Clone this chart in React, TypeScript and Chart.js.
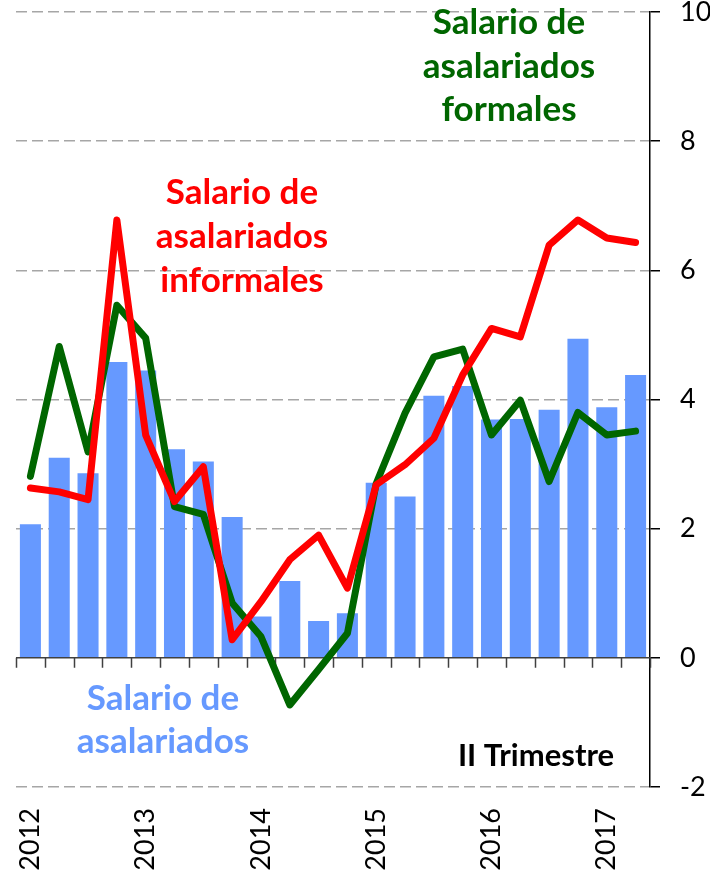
import React, { useEffect, useRef } from "react";
import { Chart, registerables } from "chart.js";

Chart.register(...registerables);

// ---- Data ----
const quarters = [
  "2012-I", "2012-II", "2012-III", "2012-IV",
  "2013-I", "2013-II", "2013-III", "2013-IV",
  "2014-I", "2014-II", "2014-III", "2014-IV",
  "2015-I", "2015-II", "2015-III", "2015-IV",
  "2016-I", "2016-II", "2016-III", "2016-IV",
  "2017-I", "2017-II",
];
const yearTickLabels = [
  "2012", "", "", "",
  "2013", "", "", "",
  "2014", "", "", "",
  "2015", "", "", "",
  "2016", "", "", "",
  "2017", "",
];
const salarioAsalariados = [
  2.07, 3.10, 2.86, 4.58, 4.45, 3.23, 3.04, 2.18, 0.64, 1.19, 0.57,
  0.69, 2.71, 2.50, 4.06, 4.21, 3.69, 3.70, 3.84, 4.94, 3.88, 4.38,
];
const salarioFormales = [
  2.81, 4.82, 3.19, 5.46, 4.95, 2.34, 2.22, 0.85, 0.33, -0.73, -0.18,
  0.38, 2.70, 3.79, 4.66, 4.78, 3.45, 3.99, 2.73, 3.80, 3.45, 3.51,
];
const salarioInformales = [
  2.63, 2.57, 2.45, 6.78, 3.45, 2.42, 2.96, 0.28, 0.87, 1.52, 1.90,
  1.08, 2.68, 2.99, 3.40, 4.38, 5.10, 4.97, 6.39, 6.78, 6.50, 6.43,
];
const yMin = -2;
const yMax = 10;
const yStep = 2;

const labelFormales = ["Salario de", "asalariados", "formales"];
const labelInformales = ["Salario de", "asalariados", "informales"];
const labelAsalariados = ["Salario de", "asalariados"];
const labelPeriodo = "II Trimestre";

const BLUE = "#6699FF";
const GREEN = "#006600";
const RED = "#FF0000";
const FONT = "Lato, 'Noto Sans', sans-serif";

const zeroAxisPlugin = {
  id: "zeroAxis",
  beforeDatasetsDraw(chart: any) {
    const { ctx, chartArea, scales } = chart;
    const x = scales.x;
    const y0 = scales.y.getPixelForValue(0);
    ctx.save();
    ctx.strokeStyle = "#404040";
    ctx.lineWidth = 1.5;
    ctx.setLineDash([]);
    ctx.beginPath();
    ctx.moveTo(chartArea.left, y0);
    ctx.lineTo(chartArea.right, y0);
    for (let i = 0; i <= quarters.length; i++) {
      const px = Math.round(x.getPixelForValue(i - 0.5)) + 0.5;
      ctx.moveTo(px, y0);
      ctx.lineTo(px, y0 + 10);
    }
    ctx.stroke();
    ctx.restore();
  },
};

const annotationsPlugin = {
  id: "textAnnotations",
  afterDraw(chart: any) {
    const { ctx } = chart;
    ctx.save();
    ctx.textAlign = "center";
    ctx.textBaseline = "alphabetic";
    const block = (lines: string[], cx: number, firstBase: number, step: number, color: string, size: number) => {
      ctx.fillStyle = color;
      ctx.font = `bold ${size}px ${FONT}`;
      lines.forEach((t, i) => ctx.fillText(t, cx, firstBase + i * step));
    };
    block(labelFormales, 509, 34, 43.5, GREEN, 35);
    block(labelInformales, 242, 204, 44, RED, 35);
    block(labelAsalariados, 163, 710, 42.5, BLUE, 35);
    block([labelPeriodo], 536, 766, 0, "#000000", 31);
    ctx.restore();
  },
};

export default function App() {
  const canvasRef = useRef<HTMLCanvasElement | null>(null);

  useEffect(() => {
    if (!canvasRef.current) return;
    const chart = new Chart(canvasRef.current, {
      type: "bar",
      data: {
        labels: quarters,
        datasets: [
          {
            type: "line",
            label: "Salario de asalariados informales",
            data: salarioInformales,
            borderColor: RED,
            backgroundColor: RED,
            borderWidth: 7,
            pointRadius: 0,
            tension: 0,
            borderCapStyle: "round",
            borderJoinStyle: "round",
            order: 1,
          } as any,
          {
            type: "line",
            label: "Salario de asalariados formales",
            data: salarioFormales,
            borderColor: GREEN,
            backgroundColor: GREEN,
            borderWidth: 7,
            pointRadius: 0,
            tension: 0,
            borderCapStyle: "round",
            borderJoinStyle: "round",
            order: 2,
          } as any,
          {
            type: "bar",
            label: "Salario de asalariados",
            data: salarioAsalariados,
            backgroundColor: BLUE,
            borderWidth: 0,
            categoryPercentage: 1,
            barPercentage: 0.73,
            order: 3,
          },
        ],
      },
      options: {
        animation: false,
        responsive: false,
        maintainAspectRatio: false,
        layout: { padding: { left: 16, top: 12, right: 0, bottom: 0 } },
        plugins: {
          legend: { display: false },
          tooltip: { enabled: false },
          title: { display: false },
        },
        scales: {
          x: {
            offset: true,
            grid: { display: false, drawTicks: false, offset: true },
            border: { display: false },
            ticks: {
              autoSkip: false,
              maxRotation: 90,
              minRotation: 90,
              color: "#000000",
              padding: 21,
              font: { family: FONT, size: 27 },
              callback: (_v: any, i: number) => yearTickLabels[i],
            },
            afterFit: (s: any) => {
              s.height = 89;
              s.paddingLeft = 0;
              s.paddingRight = 0;
            },
          },
          y: {
            position: "right",
            min: yMin,
            max: yMax,
            ticks: {
              stepSize: yStep,
              color: "#000000",
              padding: 20,
              font: { family: FONT, size: 27 },
            },
            grid: {
              color: (c: any) => (c.tick && c.tick.value === 0 ? "rgba(0,0,0,0)" : "#A6A6A6"),
              lineWidth: 1.5,
              drawTicks: true,
              tickLength: 10,
              tickColor: "#000000",
              tickWidth: 1.5,
              tickBorderDash: [],
            },
            border: { display: true, color: "#000000", width: 1.5, dash: [11, 5] },
            afterFit: (s: any) => {
              s.width = 60;
              s.paddingTop = 0;
              s.paddingBottom = 0;
            },
          },
        },
      },
      plugins: [zeroAxisPlugin, annotationsPlugin],
    });
    return () => chart.destroy();
  }, []);

  return (
    <div style={{ position: "absolute", left: 0, top: 0, width: 710, height: 876, background: "#ffffff" }}>
      <canvas ref={canvasRef} width={710} height={876} style={{ display: "block" }} />
    </div>
  );
}
